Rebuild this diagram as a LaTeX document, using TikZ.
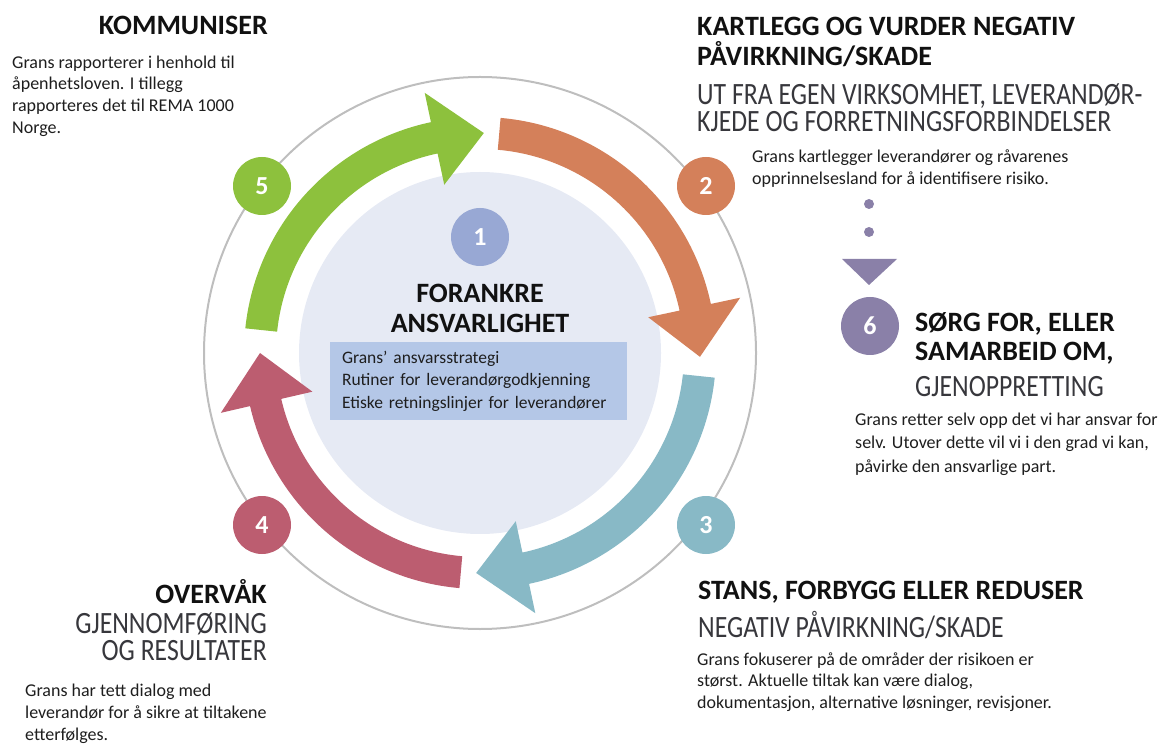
\documentclass[tikz,border=0pt]{standalone}
\usepackage{fontspec}
\setmainfont{Carlito}
\newfontfamily\condfont{Carlito}[FakeStretch=0.83]

\definecolor{stepgreen}{RGB}{141,193,61}
\definecolor{steporange}{RGB}{212,128,90}
\definecolor{stepteal}{RGB}{136,185,198}
\definecolor{stepred}{RGB}{188,93,112}
\definecolor{stepviolet}{RGB}{138,128,168}
\definecolor{stepblue}{RGB}{152,168,212}
\definecolor{corefill}{RGB}{230,234,244}
\definecolor{boxblue}{RGB}{180,199,231}
\definecolor{ringgray}{RGB}{190,190,190}
\definecolor{titleblack}{RGB}{17,17,17}
\definecolor{subgray}{RGB}{55,55,60}
\definecolor{bodyblack}{RGB}{30,30,30}

\newcommand{\CycleArrow}[3]{%
  \fill[#1] (#2:236) arc[start angle=#2, end angle=#3+13, radius=236]
    -- (#3+13:266) -- (#3:220) -- (#3+13:172) -- (#3+13:204)
    arc[start angle=#3+13, end angle=#2, radius=204] -- cycle;}

\begin{document}
\begin{tikzpicture}[x=1pt, y=1pt]
    \useasboundingbox (0,0) rectangle (1169,745);

    \tikzset{NumStyle/.style={circle, minimum size=58pt, inner sep=0pt, text=white,
        font=\fontsize{26}{26}\selectfont\bfseries}}
    \tikzset{TitleStyle/.style={inner sep=0pt, align=left, text=titleblack,
        font=\fontsize{28}{30}\selectfont\bfseries}}
    \tikzset{SubStyle/.style={inner sep=0pt, align=left, text=subgray,
        font=\condfont\fontsize{31}{26.5}\selectfont}}
    \tikzset{BodyStyle/.style={inner sep=0pt, align=left, text=bodyblack,
        font=\fontsize{18}{22}\selectfont}}
    \tikzset{BoxStyle/.style={fill=boxblue, text width=273pt, minimum height=78pt,
        inner xsep=12pt, inner ysep=0pt, align=left, text=bodyblack,
        font=\fontsize{17.5}{22.5}\selectfont}}

    \coordinate (C) at (480,392);
    \draw[ringgray, line width=2pt] (C) circle[radius=276];
    \fill[corefill] (C) circle[radius=181];

    \node[NumStyle, fill=stepgreen]  (n5) at (262,559) {5};
    \node[NumStyle, fill=steporange] (n2) at (706,559) {2};
    \node[NumStyle, fill=stepteal]   (n3) at (706,220) {3};
    \node[NumStyle, fill=stepred]    (n4) at (262,220) {4};
    \node[NumStyle, fill=stepblue]   (n1) at (480,508) {1};
    \node[NumStyle, fill=stepviolet] (n6) at (870,419) {6};

    \begin{scope}[shift={(C)}]
        \CycleArrow{stepgreen}{174}{89}
        \CycleArrow{steporange}{85}{-1}
        \CycleArrow{stepteal}{-6}{-91}
        \CycleArrow{stepred}{-95}{-180}
    \end{scope}

    \fill[stepviolet] (869,541) circle[radius=5];
    \fill[stepviolet] (869,513) circle[radius=5];
    \fill[stepviolet] (842,486) -- (897,486) -- (869,460) -- cycle;

    \node[TitleStyle, align=center] (core) at (480,437) {FORANKRE\\ANSVARLIGHET};
    \node[BoxStyle] (box) at (478.5,364) {Grans’ ansvarsstrategi\\Rutiner for leverandørgodkjenning\\Etiske retningslinjer for leverandører};

    \node[TitleStyle, anchor=east] (t5) at (268,720) {KOMMUNISER};
    \node[BodyStyle, anchor=west, font=\fontsize{18}{21.7}\selectfont] (b5) at (12,649) {Grans rapporterer i henhold til\\åpenhetsloven. I tillegg\\rapporteres det til REMA 1000\\Norge.};

    \node[TitleStyle, anchor=west] (t2) at (697,703) {KARTLEGG OG VURDER NEGATIV\\PÅVIRKNING/SKADE};
    \node[SubStyle, anchor=west] (s2) at (697,637.5) {UT FRA EGEN VIRKSOMHET, LEVERANDØR-\\KJEDE OG FORRETNINGSFORBINDELSER};
    \node[BodyStyle, anchor=west] (b2) at (752,576) {Grans kartlegger leverandører og råvarenes\\opprinnelsesland for å identifisere risiko.};

    \node[TitleStyle, anchor=west, font=\fontsize{28}{29}\selectfont\bfseries] (t6) at (915,406.5) {SØRG FOR, ELLER\\SAMARBEID OM,};
    \node[SubStyle, anchor=west] (s6) at (915,358) {GJENOPPRETTING};
    \node[BodyStyle, anchor=west, font=\fontsize{18}{23.5}\selectfont] (b6) at (855,301) {Grans retter selv opp det vi har ansvar for\\selv. Utover dette vil vi i den grad vi kan,\\påvirke den ansvarlige part.};

    \node[TitleStyle, anchor=west] (t3) at (698,153) {STANS, FORBYGG ELLER REDUSER};
    \node[SubStyle, anchor=west] (s3) at (698,120) {NEGATIV PÅVIRKNING/SKADE};
    \node[BodyStyle, anchor=west, font=\fontsize{18}{21.5}\selectfont] (b3) at (697,63.3) {Grans fokuserer på de områder der risikoen er\\størst. Aktuelle tiltak kan være dialog,\\dokumentasjon, alternative løsninger, revisjoner.};

    \node[TitleStyle, anchor=east] (t4) at (267,153) {OVERVÅK};
    \node[SubStyle, anchor=east, align=right] (s4) at (267,108.5) {GJENNOMFØRING\\OG RESULTATER};
    \node[BodyStyle, anchor=west, font=\fontsize{18}{22}\selectfont] (b4) at (25,31) {Grans har tett dialog med\\leverandør for å sikre at tiltakene\\etterfølges.};
\end{tikzpicture}
\end{document}
